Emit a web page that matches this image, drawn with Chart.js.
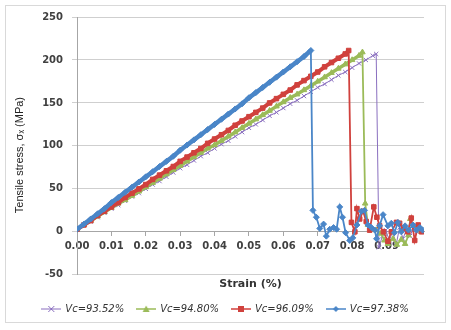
<!DOCTYPE html>
<html>
<head>
<meta charset="utf-8">
<script src="https://cdn.jsdelivr.net/npm/chart.js@4/dist/chart.umd.min.js"></script>
<style>
body { margin: 0; background: #fff; }
#wrap { position: relative; width: 451px; height: 330px; }
#frame { position: absolute; left: 5px; top: 5px; width: 439px; height: 316px; border: 1px solid #d9d9d9; pointer-events: none; }
</style>
</head>
<body>
<div id="wrap"><canvas id="chart" width="451" height="330"></canvas><div id="frame"></div></div>
<script>
// strain grid for the linear (elastic) part, shared by all series
var strainLin = [0.000, 0.002, 0.004, 0.006, 0.008, 0.010, 0.012, 0.014, 0.016, 0.018,
  0.020, 0.022, 0.024, 0.026, 0.028, 0.030, 0.032, 0.034, 0.036, 0.038,
  0.040, 0.042, 0.044, 0.046, 0.048, 0.050, 0.052, 0.054, 0.056, 0.058,
  0.060, 0.062, 0.064, 0.066, 0.068, 0.070, 0.072, 0.074, 0.076, 0.078,
  0.080, 0.082, 0.084, 0.086];

var labels = ['Vc=93.52%', 'Vc=94.80%', 'Vc=96.09%', 'Vc=97.38%'];

// Vc=93.52%
var stressLin1 = [3, 8, 12, 17, 22, 27, 31, 36, 41, 45, 50, 55, 59, 64, 69, 74, 78, 83, 88, 92,
  97, 102, 106, 111, 116, 121, 125, 130, 135, 139, 144, 149, 153, 158, 163, 168, 172, 177, 182, 186,
  191, 196, 200, 205];
var strainTail1 = [0.0870, 0.0878, 0.0888, 0.0898, 0.0908, 0.0918, 0.0928, 0.0938, 0.0948, 0.0958, 0.0968, 0.0978, 0.0990, 0.1000];
var stressTail1 = [207, -18, -5, 2, -10, 0, -15, 5, -8, 3, -5, 4, 0, 0];

// Vc=94.80%
var stressLin2 = [3, 8, 13, 18, 23, 28, 33, 37, 42, 47, 52, 57, 62, 67, 72, 77, 82, 87, 92, 97,
  101, 106, 111, 116, 121, 126, 131, 136, 141, 146, 151, 156, 160, 165, 170, 175, 180, 185, 190, 195,
  200, 205];
var strainTail2 = [0.0830, 0.0838, 0.0846, 0.0856, 0.0870, 0.0884, 0.0894, 0.0904, 0.0919, 0.0930, 0.0943, 0.0954, 0.0964, 0.0969, 0.0979, 0.0992, 0.1002];
var stressTail2 = [209, 33, 8, 3, 2, -2, -10, -14, -8, -15, -9, -14, -4, 15, 7, 2, 0];

// Vc=96.09%
var stressLin3 = [3, 8, 13, 19, 24, 29, 34, 40, 45, 50, 55, 61, 66, 71, 76, 82, 87, 92, 97, 103,
  108, 113, 118, 124, 129, 134, 139, 144, 150, 155, 160, 165, 171, 176, 181, 186, 192, 197, 202, 207];
var strainTail3 = [0.0790, 0.0798, 0.0808, 0.0814, 0.0822, 0.0832, 0.0841, 0.0851, 0.0863, 0.0872, 0.0880, 0.0891,
  0.0904, 0.0914, 0.0929, 0.0938, 0.0950, 0.0962, 0.0972, 0.0982, 0.0992, 0.1002];
var stressTail3 = [211, 11, 0, 27, 15, 24, 12, 2, 29, 17, 7, 0, -11, 0, 11, 10, 4, 0, 16, -10, 8, 0];

// Vc=97.38%
var stressLin4 = [3, 9, 15, 21, 27, 34, 40, 46, 52, 58, 64, 70, 76, 82, 88, 95, 101, 107, 113, 119,
  125, 131, 137, 143, 149, 156, 162, 168, 174, 180, 186, 192, 198, 204, 211];
var strainTail4 = [0.0686, 0.0696, 0.0706, 0.0717, 0.0725, 0.0735, 0.0746, 0.0755, 0.0764, 0.0772, 0.0781,
  0.0793, 0.0802, 0.0814, 0.0827, 0.0836, 0.0846, 0.0856, 0.0866, 0.0871, 0.0880, 0.0890, 0.0904, 0.0914,
  0.0923, 0.0933, 0.0943, 0.0954, 0.0964, 0.0977, 0.0987, 0.0997, 0.1005];
var stressTail4 = [25, 17, 4, 9, -5, 3, 5, 3, 29, 17, -1, -10, -7, 8, 24, 25, 8, 5, 2, -8, 7, 20, 7, 10,
  -1, 11, 0, 7, 2, 8, 2, 5, 2];

var yTicks = [-50, 0, 50, 100, 150, 200, 250];

function toPoints(lin, tailX, tailY) {
  var pts = [];
  for (var i = 0; i < lin.length; i++) pts.push({x: strainLin[i], y: lin[i]});
  for (var j = 0; j < tailX.length; j++) pts.push({x: tailX[j], y: tailY[j]});
  return pts;
}

// rising part drawn as a thick band (dense markers in the original), the rest thinner
function bandWidth(lastRise, thick, thin) {
  return function(c) { return c.p1DataIndex <= lastRise ? thick : thin; };
}

var colors = ['#8a6fbf', '#9bbb59', '#d0413d', '#4a86c8'];
var styles = ['crossRot', 'triangle', 'rect', 'rectRot'];

// small line + marker pictures for the legend
function makeIcon(color, style, lw) {
  var c = document.createElement('canvas');
  c.width = 20; c.height = 10;
  var g = c.getContext('2d');
  g.strokeStyle = color; g.fillStyle = color; g.lineWidth = lw;
  g.beginPath(); g.moveTo(0, 5); g.lineTo(20, 5); g.stroke();
  g.beginPath();
  if (style == 'rect') g.rect(7, 2, 6, 6);
  else if (style == 'rectRot') { g.moveTo(10, 2); g.lineTo(13, 5); g.lineTo(10, 8); g.lineTo(7, 5); g.closePath(); }
  else if (style == 'triangle') { g.moveTo(10, 1.5); g.lineTo(13.5, 8); g.lineTo(6.5, 8); g.closePath(); }
  if (style == 'crossRot') {
    g.lineWidth = 1;
    g.moveTo(7, 2); g.lineTo(13, 8); g.moveTo(13, 2); g.lineTo(7, 8); g.stroke();
  } else {
    g.fill();
  }
  return c;
}
var icons = [makeIcon(colors[0], styles[0], 1), makeIcon(colors[1], styles[1], 1.5),
  makeIcon(colors[2], styles[2], 1.5), makeIcon(colors[3], styles[3], 1.5)];

var ctx = document.getElementById('chart').getContext('2d');
new Chart(ctx, {
  type: 'scatter',
  data: {
    datasets: [{
      label: labels[0],
      data: toPoints(stressLin1, strainTail1, stressTail1),
      borderColor: colors[0], backgroundColor: colors[0],
      borderWidth: 1, pointStyle: styles[0], pointRadius: 3, pointBorderWidth: 1,
      showLine: true, order: 4
    }, {
      label: labels[1],
      data: toPoints(stressLin2, strainTail2, stressTail2),
      borderColor: colors[1], backgroundColor: colors[1],
      borderWidth: 2, pointStyle: styles[1], pointRadius: 3.2, pointBorderWidth: 1,
      segment: { borderWidth: bandWidth(stressLin2.length, 3.5, 1.8) },
      showLine: true, order: 3
    }, {
      label: labels[2],
      data: toPoints(stressLin3, strainTail3, stressTail3),
      borderColor: colors[2], backgroundColor: colors[2],
      borderWidth: 2, pointStyle: styles[2], pointRadius: 3.2, pointBorderWidth: 1,
      segment: { borderWidth: bandWidth(stressLin3.length, 4, 1.8) },
      showLine: true, order: 2
    }, {
      label: labels[3],
      data: toPoints(stressLin4, strainTail4, stressTail4),
      borderColor: colors[3], backgroundColor: colors[3],
      borderWidth: 2, pointStyle: styles[3], pointRadius: 3, pointBorderWidth: 1,
      segment: { borderWidth: bandWidth(stressLin4.length - 1, 4.5, 1.8) },
      showLine: true, order: 1
    }]
  },
  options: {
    responsive: false,
    animation: false,
    layout: { padding: { left: 5, right: 5, top: 17, bottom: 6 } },
    scales: {
      x: {
        type: 'linear',
        position: { y: 0 },
        min: 0, max: 0.1009,
        border: { display: true, color: '#a6a6a6' },
        grid: { drawOnChartArea: false, tickLength: 4, color: '#a6a6a6' },
        afterBuildTicks: function(scale) {
          scale.ticks = scale.ticks.filter(function(t) {
            return Math.abs(t.value * 100 - Math.round(t.value * 100)) < 1e-6;
          });
        },
        ticks: {
          stepSize: 0.01, padding: 5, maxRotation: 0, autoSkip: false,
          color: '#404040', font: { family: 'DejaVu Sans', size: 10, weight: 'bold' },
          callback: function(v) { return v.toFixed(2); }
        }
      },
      y: {
        min: -50, max: 250,
        afterBuildTicks: function(scale) {
          scale.ticks = yTicks.map(function(v) { return {value: v}; });
        },
        afterFit: function(scale) { scale.width = 72; },
        border: { display: true, color: '#a6a6a6' },
        grid: { color: '#cfcfcf', tickLength: 5 },
        ticks: {
          padding: 9, color: '#404040',
          font: { family: 'DejaVu Sans', size: 10, weight: 'bold' }
        },
        title: {
          display: true, text: 'Tensile stress, σₓ (MPa)      ', color: '#222',
          padding: { top: 8, bottom: 0 },
          font: { family: 'Liberation Sans', size: 11 }
        }
      },
      // empty right-hand strip so the plot stops where the original does
      yRight: {
        position: 'right', min: -50, max: 250,
        grid: { display: false }, border: { display: false }, ticks: { display: false },
        afterFit: function(scale) { scale.width = 22; }
      }
    },
    plugins: {
      title: {
        display: true, position: 'bottom', weight: 500, fullSize: false,
        text: 'Strain (%)', color: '#333',
        padding: { top: 3, bottom: 0 },
        font: { family: 'DejaVu Sans', size: 11, weight: 'bold' }
      },
      legend: {
        position: 'bottom',
        labels: {
          usePointStyle: true, pointStyleWidth: 18, padding: 13,
          color: '#333', font: { family: 'DejaVu Sans', size: 10, style: 'italic' },
          sort: function(a, b) { return a.datasetIndex - b.datasetIndex; },
          generateLabels: function(chart) {
            var items = Chart.defaults.plugins.legend.labels.generateLabels(chart);
            items.forEach(function(it) { it.pointStyle = icons[it.datasetIndex]; });
            return items;
          }
        }
      },
      tooltip: { enabled: false }
    }
  }
});
</script>
</body>
</html>
